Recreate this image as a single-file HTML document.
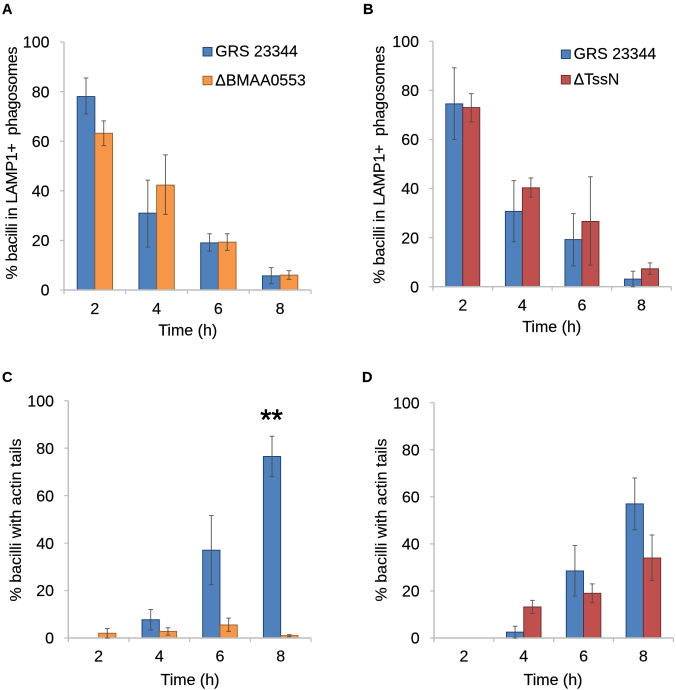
<!DOCTYPE html>
<html>
<head>
<meta charset="utf-8">
<style>
html,body{margin:0;padding:0;background:#fff;width:676px;height:690px;overflow:hidden}
svg{display:block}
text{font-family:"Liberation Sans",sans-serif;fill:#000;stroke:#000;stroke-width:0.15px}
</style>
</head>
<body>
<svg id="figure" width="676" height="690" viewBox="0 0 676 690" xmlns="http://www.w3.org/2000/svg">
<g id="plots" style="filter:blur(0.35px)"></g>
</svg>
<script>
var categories = ['2','4','6','8'];
var yTicks = [0,20,40,60,80,100];
var seriesWT = 'GRS 23344';
var seriesBM = '\u0394BMAA0553';
var seriesTN = '\u0394TssN';
var titleLamp = '% bacilli in LAMP1+\u00a0 phagosomes';
var titleActin = '% bacilli with actin tails';
var titleTime = 'Time (h)';

var aBlue = [78,31,19,5.7];
var aBlueHigh = [85.5,44.3,22.7,9];
var aBlueLow = [71,17.3,15.7,2.5];
var aOrange = [63.2,42.3,19.3,6];
var aOrangeHigh = [68.2,54.5,22.7,7.8];
var aOrangeLow = [58.2,30.5,16,4.3];

var bBlue = [74.5,30.7,19.2,3.1];
var bBlueHigh = [89.2,43.2,29.8,6.3];
var bBlueLow = [60,18.3,8.5,0];
var bRed = [73,40.3,26.6,7.3];
var bRedHigh = [78.7,44.3,44.8,9.7];
var bRedLow = [67.2,36.5,8.8,5];

var cBlue = [null,7.7,37,76.5];
var cBlueHigh = [null,12,51.6,85];
var cBlueLow = [null,3.3,22.5,68];
var cOrange = [2,2.8,5.5,1];
var cOrangeHigh = [4,4.3,8.4,1.4];
var cOrangeLow = [0,1.2,2.8,0.6];

var dBlue = [null,2.5,28.5,57];
var dBlueHigh = [null,5,39.3,68];
var dBlueLow = [null,0,17.8,46];
var dRed = [null,13.2,19,34];
var dRedHigh = [null,16,23,43.8];
var dRedLow = [null,10.4,15,24.4];

var NS = 'http://www.w3.org/2000/svg';
var root = document.getElementById('plots');
var BLUE = {fill:'#4f81bd',stroke:'#1d3f6b'};
var ORANGE = {fill:'#f79646',stroke:'#8f6230'};
var RED = {fill:'#c0504d',stroke:'#6a2b29'};

function make(parent, tag, attrs, text) {
  var el = document.createElementNS(NS, tag);
  for (var k in attrs) el.setAttribute(k, attrs[k]);
  if (text !== undefined) el.textContent = text;
  parent.appendChild(el);
  return el;
}

function drawPanel(p) {
  var g = make(root, 'g', {});
  
  
  function yScale(v) { return p.y0 + (p.y100 - p.y0) * v / 100; }
  var catW = (p.x1 - p.x0) / categories.length;
  function xCenter(i) { return p.x0 + catW * (i + 0.5); }

  var letter = make(g, 'text', {x:p.letterX, y:p.letterY, 'font-size':14.5, 'font-weight':'bold'}, p.id.toUpperCase());
  
  

  p.series.forEach(function (s, si) {
    s.values.forEach(function (v, i) {
      if (v === null) return;
      var left = xCenter(i) + (si - 1) * p.barW;
      var top = yScale(v);
      var bar = make(g, 'rect', {x:left, y:top, width:p.barW, height:p.y0 - top, fill:s.color.fill, stroke:s.color.stroke, 'stroke-width':0.9});
      
      
    });
  });

  var axis = make(g, 'path', {
    d:'M' + p.x0 + ' ' + p.y100 + 'V' + (p.y0 + 4) + 'M' + p.x0 + ' ' + p.y0 + 'H' + p.x1,
    stroke:'#bdbdbd', 'stroke-width':1.4, fill:'none'
  });
  
  

  yTicks.forEach(function (t) {
    var y = yScale(t);
    var tick = make(g, 'line', {x1:p.x0 - 4, x2:p.x0, y1:y, y2:y, stroke:'#bdbdbd', 'stroke-width':1.2});
    
    
    var lab = make(g, 'text', {x:p.tickRight, y:y + 5.7, 'font-size':16, 'text-anchor':'end'}, t);
    
    
  });

  categories.forEach(function (c, i) {
    var lab = make(g, 'text', {x:xCenter(i), y:p.xLabelY, 'font-size':16, 'text-anchor':'middle'}, c);
    
    
  });
  for (var i = 1; i <= categories.length; i++) {
    var bx = p.x0 + catW * i;
    var xt = make(g, 'line', {x1:bx, x2:bx, y1:p.y0, y2:p.y0 + 4, stroke:'#bdbdbd', 'stroke-width':1.2});
    
    
  }

  p.series.forEach(function (s, si) {
    s.values.forEach(function (v, i) {
      if (v === null) return;
      var cx = xCenter(i) + (si - 0.5) * p.barW;
      var yh = yScale(s.high[i]);
      var yl = yScale(s.low[i]);
      var err = make(g, 'path', {
        d:'M' + cx + ' ' + yh + 'V' + yl + 'M' + (cx - 2.3) + ' ' + yh + 'h4.6M' + (cx - 2.3) + ' ' + yl + 'h4.6',
        stroke:'#4a4a4a', 'stroke-width':1, fill:'none', opacity:0.85
      });
      
      
    });
  });

  var xt2 = make(g, 'text', {x:p.timeX, y:p.timeY, 'font-size':16, 'text-anchor':'middle'}, titleTime);
  
  

  var yt = make(g, 'text', {
    transform:'translate(' + p.titleX + ' ' + p.titleY + ') rotate(-90)',
    'font-size':16, 'text-anchor':'middle', textLength:p.titleLen, lengthAdjust:'spacing'
  }, p.title);
  
  

  if (p.legend) {
    p.legend.forEach(function (e) {
      var sw = make(g, 'rect', {x:e.x, y:e.y, width:9, height:8.6, fill:e.color.fill, stroke:e.color.stroke, 'stroke-width':0.9});
      
      
      var tx = make(g, 'text', {x:e.x + 12.3, y:e.y + 9.2, 'font-size':15.8}, e.label);
      
      
    });
  }
}

drawPanel({
  id:'a', x0:64, x1:311, y0:290, y100:42, barW:17.7,
  letterX:2, letterY:14, tickRight:49.5, xLabelY:314, timeX:187.7, timeY:335.5,
  titleX:17, titleY:163, titleLen:233, title:titleLamp,
  series:[
    {values:aBlue, high:aBlueHigh, low:aBlueLow, color:BLUE},
    {values:aOrange, high:aOrangeHigh, low:aOrangeLow, color:ORANGE}
  ],
  legend:[
    {x:203, y:47.4, color:BLUE, label:seriesWT},
    {x:203, y:76.2, color:ORANGE, label:seriesBM}
  ]
});
drawPanel({
  id:'b', x0:433, x1:671.3, y0:286.7, y100:41.3, barW:17,
  letterX:363, letterY:14, tickRight:419, xLabelY:310.7, timeX:551.7, timeY:332,
  titleX:384.7, titleY:164.8, titleLen:238, title:titleLamp,
  series:[
    {values:bBlue, high:bBlueHigh, low:bBlueLow, color:BLUE},
    {values:bRed, high:bRedHigh, low:bRedLow, color:RED}
  ],
  legend:[
    {x:561.3, y:50, color:BLUE, label:seriesWT},
    {x:561.3, y:75.4, color:RED, label:seriesTN}
  ]
});
drawPanel({
  id:'c', x0:68.3, x1:311, y0:638, y100:400.7, barW:17.3,
  letterX:2, letterY:382, tickRight:54, xLabelY:661.7, timeX:190, timeY:685,
  titleX:21, titleY:520, titleLen:163, title:titleActin,
  series:[
    {values:cBlue, high:cBlueHigh, low:cBlueLow, color:BLUE},
    {values:cOrange, high:cOrangeHigh, low:cOrangeLow, color:ORANGE}
  ]
});
drawPanel({
  id:'d', x0:434, x1:673.3, y0:638, y100:402.7, barW:17.3,
  letterX:362, letterY:382, tickRight:419.7, xLabelY:661.7, timeX:553, timeY:685,
  titleX:386.3, titleY:520, titleLen:163, title:titleActin,
  series:[
    {values:dBlue, high:dBlueHigh, low:dBlueLow, color:BLUE},
    {values:dRed, high:dRedHigh, low:dRedLow, color:RED}
  ]
});

var sig = make(root, 'text', {x:271.5, y:429.5, 'font-size':29, 'text-anchor':'middle', style:'stroke-width:0.6px'}, '**');


</script>
</body>
</html>
